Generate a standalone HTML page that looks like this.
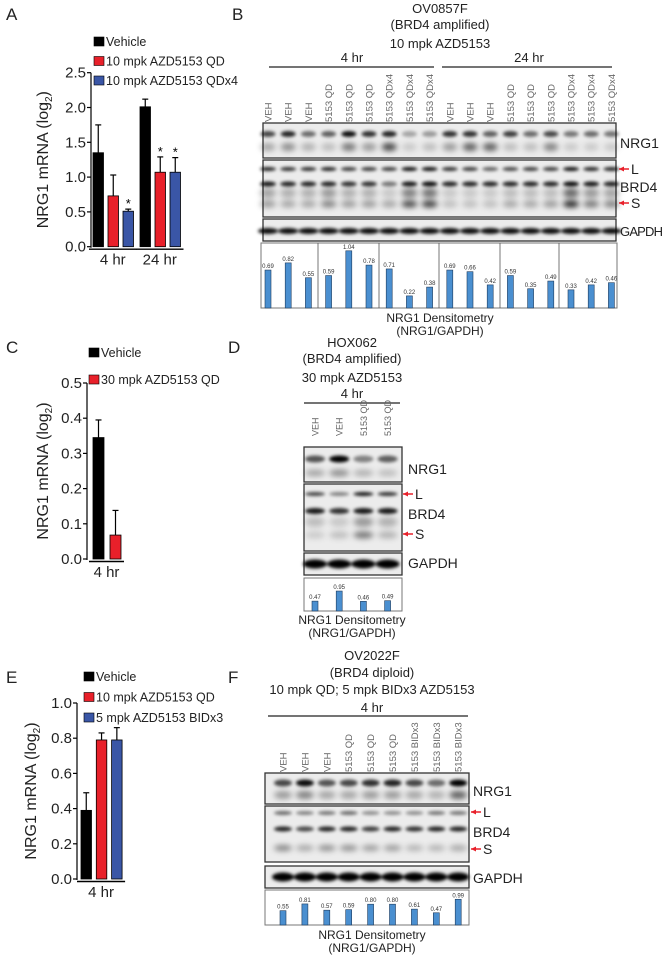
<!DOCTYPE html>
<html><head><meta charset="utf-8">
<style>
html,body{margin:0;padding:0;background:#fff;}
svg{display:block;font-family:"Liberation Sans",Arial,sans-serif;}
</style></head>
<body>
<svg id="fig" width="664" height="956" viewBox="0 0 664 956" xmlns="http://www.w3.org/2000/svg">
<defs>
<filter id="blur" x="-20%" y="-100%" width="140%" height="300%"><feGaussianBlur stdDeviation="1.5"/></filter>
<filter id="blur2" x="-20%" y="-100%" width="140%" height="300%"><feGaussianBlur stdDeviation="2.8"/></filter>
</defs>
</svg>
<script>
// ---------- Panel A data ----------
const aCategories = ["4 hr", "24 hr"];
const aSeries = ["Vehicle", "10 mpk AZD5153 QD", "10 mpk AZD5153 QDx4"];
const aValues = [[1.35, 0.73, 0.51], [2.01, 1.07, 1.07]];
const aErrors = [[0.40, 0.30, 0.03], [0.11, 0.22, 0.21]];
const aStars = [[false, false, true], [false, true, true]];
const aTicks = ["0.0", "0.5", "1.0", "1.5", "2.0", "2.5"];
// ---------- Panel C data ----------
const cCategories = ["4 hr"];
const cSeries = ["Vehicle", "30 mpk AZD5153 QD"];
const cValues = [[0.345, 0.068]];
const cErrors = [[0.05, 0.07]];
const cTicks = ["0.0", "0.1", "0.2", "0.3", "0.4", "0.5"];
// ---------- Panel E data ----------
const eCategories = ["4 hr"];
const eSeries = ["Vehicle", "10 mpk AZD5153 QD", "5 mpk AZD5153 BIDx3"];
const eValues = [[0.39, 0.79, 0.79]];
const eErrors = [[0.10, 0.04, 0.07]];
const eTicks = ["0.0", "0.2", "0.4", "0.6", "0.8", "1.0"];
// ---------- Densitometry data ----------
const bLanes = ["VEH","VEH","VEH","5153 QD","5153 QD","5153 QD","5153 QDx4","5153 QDx4","5153 QDx4","VEH","VEH","VEH","5153 QD","5153 QD","5153 QD","5153 QDx4","5153 QDx4","5153 QDx4"];
const bDensity = [0.69,0.82,0.55,0.59,1.04,0.78,0.71,0.22,0.38,0.69,0.66,0.42,0.59,0.35,0.49,0.33,0.42,0.46];
const dLanes = ["VEH","VEH","5153 QD","5153 QD"];
const dDensity = [0.47,0.95,0.46,0.49];
const fLanes = ["VEH","VEH","VEH","5153 QD","5153 QD","5153 QD","5153 BIDx3","5153 BIDx3","5153 BIDx3"];
const fDensity = [0.55,0.81,0.57,0.59,0.80,0.80,0.61,0.47,0.99];

const NS = "http://www.w3.org/2000/svg";
const svg = document.getElementById("fig");
const colors = ["#000000", "#e8202a", "#3a56a6"];
function el(tag, attrs, parent, text) {
  const e = document.createElementNS(NS, tag);
  for (const k in attrs) e.setAttribute(k, attrs[k]);
  if (text !== undefined) e.textContent = text;
  (parent || svg).appendChild(e);
  return e;
}
function txt(x, y, s, size, anchor, name, extra) {
  const t = el("text", Object.assign({x: x, y: y, "font-size": size, "text-anchor": anchor || "start", fill: "#222"}, extra || {}), svg, s);
  
  
  return t;
}

// ---------- bar charts ----------
function barChart(o) {
  const g = el("g", {});
  
  
  const yScale = v => o.y0 - (v / o.max) * (o.y0 - o.yTop);
  o.series.forEach((s, i) => {
    const r = el("rect", {x: o.legX, y: o.legY + i * o.legStep, width: 10, height: 9, fill: colors[i], stroke: "#000", "stroke-width": 0.6}, g);
    
    
    const t = el("text", {x: o.legX + 12, y: o.legY + i * o.legStep + 9, "font-size": 12.5, fill: "#222"}, g, s);
    
    
  });
  el("line", {x1: o.axisX, y1: o.yTop, x2: o.axisX, y2: o.y0 + 1, stroke: "#000", "stroke-width": 1.2}, g);
  o.ticks.forEach((tk) => {
    const v = parseFloat(tk);
    const y = yScale(v);
    el("line", {x1: o.axisX - 4, y1: y, x2: o.axisX, y2: y, stroke: "#000", "stroke-width": 1.2}, g);
    const t = el("text", {x: o.axisX - 5, y: y + 5, "font-size": 15, "text-anchor": "end", fill: "#222"}, g, tk);
    
    
  });
  const yt = el("text", {x: 0, y: 0, "font-size": 16, "text-anchor": "middle", fill: "#222", transform: `translate(${o.titleX},${(o.y0 + o.yTop) / 2}) rotate(-90)`}, g);
  yt.innerHTML = 'NRG1 mRNA (log<tspan font-size="10" dy="4">2</tspan><tspan dy="-4">)</tspan>';
  
  
  o.categories.forEach((c, gi) => {
    const gx = o.groupX[gi];
    const n = o.values[gi].length;
    o.values[gi].forEach((v, si) => {
      const x = gx + si * o.step;
      const y = yScale(v);
      const ye = yScale(v + o.errors[gi][si]);
      const cx = x + o.bw / 2;
      el("line", {x1: cx, y1: y, x2: cx, y2: ye, stroke: "#000", "stroke-width": 1.2}, g);
      el("line", {x1: cx - 3, y1: ye, x2: cx + 3, y2: ye, stroke: "#000", "stroke-width": 1.2}, g);
      const b = el("rect", {x: x, y: y, width: o.bw, height: o.y0 - y, fill: colors[si], stroke: "#000", "stroke-width": 0.8}, g);
      
      
      if (o.stars && o.stars[gi][si]) {
        const st = el("text", {x: cx, y: ye - 1, "font-size": 13, "text-anchor": "middle", fill: "#000"}, g, "*");
        
        
      }
    });
    const lx0 = gx - 4, lx1 = gx + (n - 1) * o.step + o.bw + 3;
    el("line", {x1: lx0, y1: o.y0 + 2.5, x2: lx1, y2: o.y0 + 2.5, stroke: "#000", "stroke-width": 1.4}, g);
    const t = el("text", {x: (lx0 + lx1) / 2, y: o.y0 + 18, "font-size": 15, "text-anchor": "middle", fill: "#222"}, g, c);
    
    
  });
}
barChart({name: "chart-a", categories: aCategories, series: aSeries, values: aValues, errors: aErrors, stars: aStars, ticks: aTicks,
  max: 2.5, axisX: 91, yTop: 72.7, y0: 246.7, groupX: [93, 140], step: 15, bw: 10.5, legX: 94, legY: 37, legStep: 19.5, titleX: 48});
barChart({name: "chart-c", categories: cCategories, series: cSeries, values: cValues, errors: cErrors, ticks: cTicks,
  max: 0.5, axisX: 87, yTop: 383, y0: 559, groupX: [93], step: 17, bw: 11, legX: 89, legY: 348, legStep: 27, titleX: 48});
barChart({name: "chart-e", categories: eCategories, series: eSeries, values: eValues, errors: eErrors, ticks: eTicks,
  max: 1.0, axisX: 77, yTop: 703, y0: 879, groupX: [81], step: 15.3, bw: 10.5, legX: 84, legY: 672, legStep: 20.5, titleX: 36});

[["A",6,20],["B",232,20],["C",6,353],["D",228,353],["E",6,683],["F",228,683]].forEach(p => txt(p[1], p[2], p[0], 17, "start", "panel-label-" + p[0].toLowerCase()));

// ---------- blots ----------
function lanesLabels(centers, labels, bottom, name, size) {
  labels.forEach((l, i) => {
    const t = el("text", {x: 0, y: 0, "font-size": size || 10, fill: "#666", transform: `translate(${centers[i] + 3.5},${bottom}) rotate(-90)`}, svg, l);
    
    
  });
}
function blotBox(x0, x1, y0, y1, name) {
  const r = el("rect", {x: x0, y: y0, width: x1 - x0, height: y1 - y0, fill: "#ececec", stroke: "#333", "stroke-width": 1.3});
  
  
}
function band(centers, w, y, h, ints, blurId) {
  const g = el("g", {filter: `url(#${blurId || "blur"})`});
  centers.forEach((c, i) => {
    el("ellipse", {cx: c, cy: y, rx: w / 2, ry: h / 2, fill: `rgba(0,0,0,${ints[i]})`}, g);
  });
}
function densBox(x0, x1, y0, y1, centers, vals, scale, dividers, name) {
  const r = el("rect", {x: x0, y: y0, width: x1 - x0, height: y1 - y0, fill: "#fff", stroke: "#777", "stroke-width": 1});
  
  
  (dividers || []).forEach(d => el("line", {x1: d, y1: y0, x2: d, y2: y1, stroke: "#555", "stroke-width": 0.8}));
  vals.forEach((v, i) => {
    const h = v * scale;
    const b = el("rect", {x: centers[i] - 3, y: y1 - h, width: 6, height: h, fill: "#4a8fd0", stroke: "#1e3b5c", "stroke-width": 0.6});
    
    
    const t = el("text", {x: centers[i], y: y1 - h - 2, "font-size": 6, "text-anchor": "middle", fill: "#333"}, svg, v.toFixed(2));
    
    
  });
}
function arrow(x, y, letter, size) {
  el("line", {x1: x, y1: y, x2: x + 10, y2: y, stroke: "#e8202a", "stroke-width": 1.5});
  el("polygon", {points: `${x},${y} ${x + 5},${y - 2.5} ${x + 5},${y + 2.5}`, fill: "#e8202a"});
  txt(x + 12, y + 5, letter, size || 14, "start", "band-label-" + letter.toLowerCase());
}
function hline(x1, x2, y) { el("line", {x1: x1, y1: y, x2: x2, y2: y, stroke: "#222", "stroke-width": 1.2}); }

// Panel B
const bC = bLanes.map((_, i) => 268 + i * 20.2);
txt(440, 13, "OV0857F", 13, "middle", "title-b");
txt(440, 29, "(BRD4 amplified)", 13, "middle", "subtitle-b");
txt(440, 48, "10 mpk AZD5153", 13, "middle", "treatment-b");
txt(352, 62, "4 hr", 13, "middle", "timepoint-4hr");
txt(529, 62, "24 hr", 13, "middle", "timepoint-24hr");
hline(269, 434, 67); hline(442, 612, 67);
lanesLabels(bC, bLanes, 122, "lane-label", 9.5);
blotBox(263, 616, 123, 158, "blot-nrg1");
band(bC, 15, 134, 6, [0.7,0.85,0.55,0.6,0.95,0.8,0.85,0.3,0.35,0.8,0.8,0.6,0.75,0.55,0.7,0.5,0.55,0.5]);
band(bC, 15, 147, 8, [0.3,0.4,0.25,0.2,0.5,0.35,0.7,0.15,0.2,0.35,0.6,0.6,0.2,0.2,0.45,0.15,0.15,0.15], "blur2");
blotBox(263, 616, 160, 217, "blot-brd4");
band(bC, 16, 169, 4, [0.85,0.8,0.8,0.85,0.75,0.75,0.75,0.95,0.95,0.8,0.75,0.6,0.7,0.75,0.75,0.95,0.85,0.85]);
band(bC, 16, 184, 5, [0.9,0.85,0.85,0.85,0.8,0.8,0.5,0.9,0.95,0.85,0.85,0.85,0.85,0.85,0.85,0.95,0.9,0.85]);
band(bC, 16, 193, 10, [0.3,0.25,0.25,0.35,0.25,0.25,0.15,0.45,0.5,0.15,0.15,0.15,0.2,0.2,0.2,0.55,0.35,0.3], "blur2");
band(bC, 16, 204, 7, [0.35,0.3,0.3,0.45,0.35,0.35,0.3,0.7,0.75,0.2,0.2,0.2,0.3,0.3,0.35,0.85,0.5,0.45], "blur2");
blotBox(263, 616, 219, 241, "blot-gapdh");
band(bC, 20, 231, 6, bC.map(() => 0.95));
txt(620, 148, "NRG1", 14, "start", "label-nrg1");
arrow(619, 169, "L");
txt(620, 192, "BRD4", 14, "start", "label-brd4");
arrow(619, 203, "S");
txt(620, 236, "GAPDH", 13, "start", "label-gapdh", {textLength: 43});
densBox(261, 617, 243, 308, bC, bDensity, 55, [318, 379, 439, 500, 559], "densitometry-b");
txt(440, 322, "NRG1 Densitometry", 12, "middle", "densitometry-title");
txt(440, 335, "(NRG1/GAPDH)", 12, "middle", "densitometry-subtitle");

// Panel D
const dC = dLanes.map((_, i) => 315 + i * 24.2);
txt(352, 347, "HOX062", 13, "middle", "title-d");
txt(352, 363, "(BRD4 amplified)", 13, "middle", "subtitle-d");
txt(352, 382, "30 mpk AZD5153", 13, "middle", "treatment-d");
txt(352, 398, "4 hr", 13, "middle", "timepoint-d");
hline(304, 400, 403);
lanesLabels(dC, dLanes, 436, "lane-label", 9);
blotBox(304, 402, 447, 482, "blot-nrg1-d");
band(dC, 20, 459, 7, [0.65,1,0.45,0.6]);
band(dC, 20, 473, 7, [0.3,0.4,0.25,0.2], "blur2");
blotBox(304, 402, 484, 551, "blot-brd4-d");
band(dC, 20, 494, 4, [0.7,0.45,0.9,0.8]);
band(dC, 20, 511, 6, [0.9,0.8,0.9,0.9]);
band(dC, 20, 522, 10, [0.2,0.15,0.35,0.25], "blur2");
band(dC, 20, 535, 7, [0.15,0.2,0.5,0.25], "blur2");
blotBox(304, 402, 553, 575, "blot-gapdh-d");
band(dC, 24, 564, 9, [1,1,1,1]);
txt(408, 474, "NRG1", 14, "start", "label-nrg1");
arrow(403, 494, "L");
txt(408, 519, "BRD4", 14, "start", "label-brd4");
arrow(403, 534, "S");
txt(408, 568, "GAPDH", 14, "start", "label-gapdh");
densBox(304, 402, 578, 611, dC, dDensity, 21, [], "densitometry-d");
txt(352, 624, "NRG1 Densitometry", 12, "middle", "densitometry-title");
txt(352, 637, "(NRG1/GAPDH)", 12, "middle", "densitometry-subtitle");

// Panel F
const fC = fLanes.map((_, i) => 283 + i * 21.9);
txt(372, 660, "OV2022F", 13, "middle", "title-f");
txt(372, 677, "(BRD4 diploid)", 13, "middle", "subtitle-f");
txt(372, 694, "10 mpk QD; 5 mpk BIDx3  AZD5153", 13, "middle", "treatment-f");
txt(372, 712, "4 hr", 13, "middle", "timepoint-f");
hline(268, 468, 716);
lanesLabels(fC, fLanes, 772, "lane-label", 9.5);
blotBox(265, 469, 773, 804, "blot-nrg1-f");
band(fC, 18, 783, 7, [0.7,0.95,0.65,0.7,0.8,0.85,0.7,0.55,1]);
band(fC, 18, 795, 8, [0.35,0.45,0.3,0.3,0.35,0.35,0.3,0.25,0.6], "blur2");
blotBox(265, 469, 806, 862, "blot-brd4-f");
band(fC, 18, 813, 4, [0.55,0.45,0.5,0.55,0.4,0.4,0.4,0.5,0.5]);
band(fC, 18, 829, 5, [0.85,0.7,0.85,0.85,0.75,0.85,0.8,0.85,0.85]);
band(fC, 18, 848, 6, [0.45,0.3,0.4,0.4,0.35,0.35,0.25,0.25,0.3], "blur2");
blotBox(265, 469, 866, 888, "blot-gapdh-f");
band(fC, 22, 877, 9, fC.map(() => 1));
txt(473, 796, "NRG1", 14, "start", "label-nrg1");
arrow(471, 812, "L");
txt(473, 837, "BRD4", 14, "start", "label-brd4");
arrow(471, 849, "S");
txt(473, 883, "GAPDH", 14, "start", "label-gapdh");
densBox(265, 469, 890, 925, fC, fDensity, 26, [], "densitometry-f");
txt(372, 939, "NRG1 Densitometry", 12, "middle", "densitometry-title");
txt(372, 952, "(NRG1/GAPDH)", 12, "middle", "densitometry-subtitle");
</script>
</body></html>
